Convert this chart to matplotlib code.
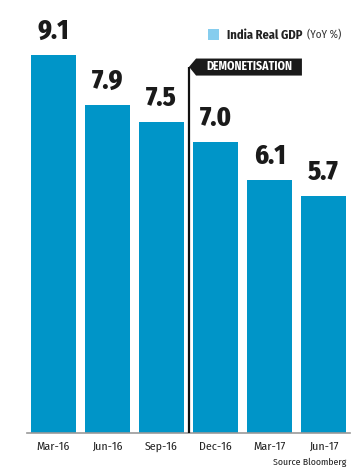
import matplotlib.pyplot as plt
from matplotlib.patches import Polygon, Rectangle

# Data
quarters = ["Mar-16", "Jun-16", "Sep-16", "Dec-16", "Mar-17", "Jun-17"]
gdp = [9.1, 7.9, 7.5, 7.0, 6.1, 5.7]
event_pos = 2.51  # between Sep-16 and Dec-16
event_label = "DEMONETISATION"

bar_color = "#0095c8"
legend_color = "#86cdee"
font = ["Fira Sans Condensed", "Roboto Condensed", "DejaVu Sans"]

fig = plt.figure(figsize=(3.64, 4.73), dpi=100)
ax = fig.add_axes([27 / 364, 40 / 473, 323 / 364, 433 / 473])

x = range(len(quarters))
ax.bar(x, gdp, width=0.833, color=bar_color, zorder=2)
ax.set_xlim(-0.49, 5.49)
ax.set_ylim(0, 10.43)

for xi, v in zip(x, gdp):
    ax.text(xi, v + 0.25, f"{v:.1f}", ha="center", va="bottom",
            fontsize=19, fontweight=800, family=font, color="#1a1a1a")

# axis styling
for s in ["top", "right", "left"]:
    ax.spines[s].set_visible(False)
ax.spines["bottom"].set_color("#999999")
ax.spines["bottom"].set_linewidth(1.2)
ax.set_yticks([])
ax.set_xticks(list(x))
ax.set_xticklabels(quarters, family=font, fontsize=8.5, color="#222222")
ax.tick_params(axis="x", length=0, pad=6)

# event marker
tip_y = 8.82
ax.plot([event_pos, event_pos], [0, tip_y], color="#111111", lw=1.6,
        zorder=3, solid_capstyle="butt")
flag = Polygon([[event_pos, tip_y], [2.64, 9.02], [4.60, 9.02],
                [4.60, 8.61], [2.64, 8.61]], closed=True,
               facecolor="#1a1a1a", edgecolor="none", zorder=4)
ax.add_patch(flag)
ax.text(3.62, tip_y, event_label, ha="center", va="center", color="white",
        fontsize=8.5, fontweight="bold", family=font, zorder=5)

# legend
fig.patches.append(Rectangle((208 / 364, 1 - 40 / 473), 11 / 364, 11 / 473,
                             transform=fig.transFigure, facecolor=legend_color,
                             edgecolor="none"))
fig.text(227 / 364, 1 - 35 / 473, "India Real GDP", ha="left", va="center",
         fontsize=9, fontweight="bold", family=font, color="#222222")
fig.text(307 / 364, 1 - 35 / 473, "(YoY %)", ha="left", va="center",
         fontsize=8, family=font, color="#333333")

fig.text(346 / 364, 1 - 462 / 473, "Source Bloomberg", ha="right",
         va="center", fontsize=7, family=font, color="#222222")

fig.savefig("out.png", dpi=100, facecolor="white")
